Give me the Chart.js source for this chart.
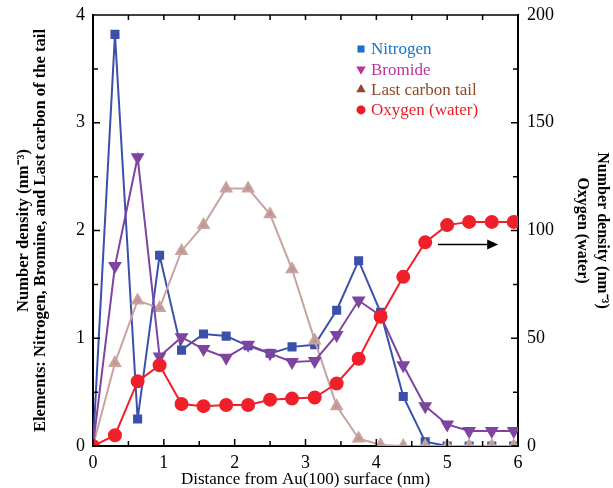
<!DOCTYPE html>
<html>
<head>
<meta charset="utf-8">
<script src="https://cdn.jsdelivr.net/npm/chart.js@4/dist/chart.umd.min.js"></script>
<style>
  body { margin: 0; background: #fff; }
  canvas { display: block; }
</style>
</head>
<body>
<canvas id="densityChart" width="613" height="488"></canvas>
<script>
// distance from surface (nm)
var distance = [0, 0.31, 0.63, 0.94, 1.25, 1.56, 1.88, 2.19, 2.5, 2.81,
                3.13, 3.44, 3.75, 4.06, 4.38, 4.69, 5.0, 5.31, 5.63, 5.94];

// left axis (nm^-3)
var nitrogen = [0, 3.82, 0.25, 1.77, 0.89, 1.04, 1.02, 0.93, 0.86, 0.92,
                0.94, 1.26, 1.72, 1.24, 0.46, 0.04, 0, 0, 0, 0];
var bromide  = [0, 1.67, 2.68, 0.83, 1.01, 0.90, 0.82, 0.94, 0.86, 0.78,
                0.79, 1.03, 1.35, 1.21, 0.75, 0.37, 0.20, 0.14, 0.14, 0.14];
var carbon   = [0, 0.77, 1.35, 1.28, 1.81, 2.05, 2.39, 2.39, 2.15, 1.64,
                0.98, 0.37, 0.07, 0.01, 0, 0, 0, 0, 0, 0];
// right axis (nm^-3)
var oxygen   = [0, 5, 30, 37.5, 19.5, 18.5, 19, 19, 21.5, 22,
                22.5, 29, 40.5, 60, 78.5, 94.5, 102.5, 104, 104, 104];

var xTicks = [0, 1, 2, 3, 4, 5, 6];
var yLeftTicks = [0, 1, 2, 3, 4];
var yRightTicks = [0, 50, 100, 150, 200];

// arrow pointing to the right axis: [x0, x1] at oxygen value
var arrowX = [4.87, 5.72];
var arrowY = 93.5;

var legendNames = ['Nitrogen', 'Bromide', 'Last carbon tail', 'Oxygen (water)'];
var legendColors = ['#1b72c2', '#bd329f', '#8e4a28', '#ec1c24'];

function toPoints(ys) {
  var pts = [];
  for (var i in ys) {
    pts.push({x: distance[i], y: ys[i]});
  }
  return pts;
}

var serif = "'Liberation Serif', 'Times New Roman', serif";

// fixed box sizes so the plot area lands where the original one is
function fitBox(size) {
  return function(s) {
    if (s.isHorizontal()) { s.height = size; } else { s.width = size; }
    s.paddingTop = 0; s.paddingBottom = 0;
    s.paddingLeft = 0; s.paddingRight = 0;
  };
}

// inward ticks, top frame line, arrow and legend
var frameTicks = {
  id: 'frameTicks',
  afterDraw: function(chart) {
    var ctx = chart.ctx;
    var a = chart.chartArea;
    var sx = chart.scales.x, yl = chart.scales.y, yr = chart.scales.y2;
    ctx.save();
    ctx.strokeStyle = '#000';
    ctx.lineWidth = 1.5;
    ctx.beginPath();
    ctx.moveTo(a.left - 1, a.top);
    ctx.lineTo(a.right + 1, a.top);
    var v, p, len;
    for (v = 0; v <= 6.001; v += 0.5) {
      p = sx.getPixelForValue(v);
      len = (v % 1 === 0) ? 7 : 5;
      ctx.moveTo(p, a.bottom); ctx.lineTo(p, a.bottom - len);
      ctx.moveTo(p, a.top); ctx.lineTo(p, a.top + 5);
    }
    for (v = 0; v <= 4.001; v += 0.5) {
      p = yl.getPixelForValue(v);
      len = (v % 1 === 0) ? 7 : 5;
      ctx.moveTo(a.left, p); ctx.lineTo(a.left + len, p);
    }
    for (v = 0; v <= 200; v += 25) {
      p = yr.getPixelForValue(v);
      len = (v % 50 === 0) ? 7 : 5;
      ctx.moveTo(a.right, p); ctx.lineTo(a.right - len, p);
    }
    ctx.stroke();

    // arrow
    var ax0 = sx.getPixelForValue(arrowX[0]);
    var ax1 = sx.getPixelForValue(arrowX[1]);
    var ay = yr.getPixelForValue(arrowY);
    ctx.lineWidth = 1.5;
    ctx.beginPath();
    ctx.moveTo(ax0, ay); ctx.lineTo(ax1 - 8, ay);
    ctx.stroke();
    ctx.fillStyle = '#000';
    ctx.beginPath();
    ctx.moveTo(ax1, ay); ctx.lineTo(ax1 - 11, ay - 5); ctx.lineTo(ax1 - 11, ay + 5);
    ctx.closePath();
    ctx.fill();

    // legend
    var styles = [
      {pointStyle: 'rect', rotation: 0, radius: 5},
      {pointStyle: 'triangle', rotation: 180, radius: 5.5},
      {pointStyle: 'triangle', rotation: 0, radius: 5.5},
      {pointStyle: 'circle', rotation: 0, radius: 4.5}
    ];
    ctx.font = '17px ' + serif;
    ctx.textBaseline = 'middle';
    for (var i in legendNames) {
      var ly = 49 + i * 20.3;
      ctx.fillStyle = legendColors[i];
      ctx.strokeStyle = legendColors[i];
      Chart.helpers.drawPoint(ctx, {pointStyle: styles[i].pointStyle, rotation: styles[i].rotation,
        radius: styles[i].radius, borderWidth: 0}, 361, ly);
      ctx.fillStyle = legendColors[i];
      ctx.fillText(legendNames[i], 371, ly + 1);
    }
    ctx.restore();
  }
};

var ctx = document.getElementById('densityChart').getContext('2d');

var chart = new Chart(ctx, {
  type: 'line',
  data: {
    datasets: [
      {
        label: 'Oxygen (water)', data: toPoints(oxygen), yAxisID: 'y2',
        borderColor: '#f0202a', backgroundColor: '#f0202a',
        pointStyle: 'circle', pointRadius: 6, borderWidth: 2, order: 1
      },
      {
        label: 'Bromide', data: toPoints(bromide), yAxisID: 'y',
        borderColor: '#7e44a0', backgroundColor: '#7e44a0',
        pointStyle: 'triangle', pointRotation: 180, pointRadius: 6, borderWidth: 2, order: 2
      },
      {
        label: 'Last carbon tail', data: toPoints(carbon), yAxisID: 'y',
        borderColor: '#c8a39f', backgroundColor: '#c09893',
        pointStyle: 'triangle', pointRadius: 6, borderWidth: 2, order: 3
      },
      {
        label: 'Nitrogen', data: toPoints(nitrogen), yAxisID: 'y',
        borderColor: '#3b50aa', backgroundColor: '#3b50aa',
        pointStyle: 'rect', pointRadius: 5, borderWidth: 2, order: 4
      }
    ]
  },
  options: {
    responsive: false,
    animation: false,
    layout: { padding: { top: 15, left: 0, right: 0, bottom: 0 } },
    plugins: {
      legend: { display: false },
      tooltip: { enabled: false }
    },
    elements: { line: { tension: 0 }, point: { borderWidth: 1 } },
    scales: {
      x: {
        type: 'linear', min: 0, max: 6,
        afterBuildTicks: function(s) { s.ticks = xTicks.map(function(v) { return {value: v}; }); },
        afterFit: fitBox(42),
        grid: { display: false, drawTicks: false },
        border: { display: true, color: '#000', width: 2 },
        ticks: { padding: 6, color: '#000', font: { family: serif, size: 18 } },
        title: {
          display: true, text: 'Distance from Au(100) surface (nm)', color: '#000',
          font: { family: serif, size: 17, lineHeight: 1 }, padding: { top: 0, bottom: 0 }
        }
      },
      y: {
        position: 'left', min: 0, max: 4,
        afterBuildTicks: function(s) { s.ticks = yLeftTicks.map(function(v) { return {value: v}; }); },
        afterFit: fitBox(93),
        grid: { display: false, drawTicks: false },
        border: { display: true, color: '#000', width: 2 },
        ticks: { padding: 8, color: '#000', font: { family: serif, size: 18 } },
        title: {
          display: true,
          text: ['Number density (nm\u207B\u00B3)', 'Elements: Nitrogen, Bromine, and Last carbon of the tail'],
          color: '#000', font: { family: serif, size: 16.6, weight: 'bold', lineHeight: 1.02 },
          padding: { top: 15, bottom: 0 }
        }
      },
      y2: {
        position: 'right', min: 0, max: 200,
        afterBuildTicks: function(s) { s.ticks = yRightTicks.map(function(v) { return {value: v}; }); },
        afterFit: fitBox(95),
        grid: { display: false, drawTicks: false },
        border: { display: true, color: '#000', width: 2 },
        ticks: { padding: 9, color: '#000', font: { family: serif, size: 18 } },
        title: {
          display: true,
          text: ['Number density (nm\u207B\u00B3)', 'Oxygen (water)'],
          color: '#000', font: { family: serif, size: 16, weight: 'bold', lineHeight: 1.3 },
          padding: { top: 0, bottom: 0 }
        }
      }
    }
  },
  plugins: [frameTicks]
});
</script>
</body>
</html>
